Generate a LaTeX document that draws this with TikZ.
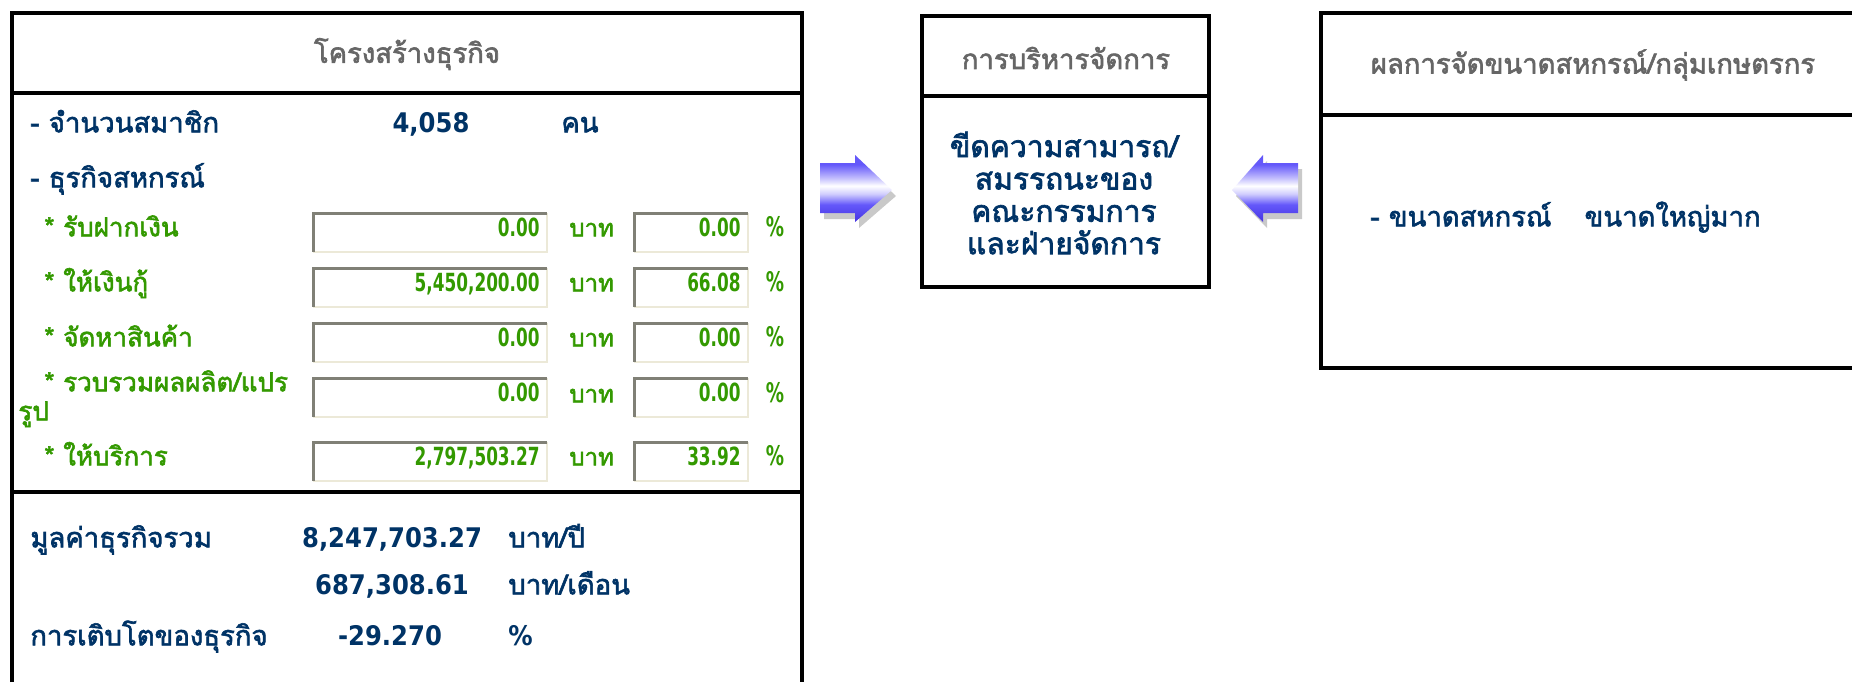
\documentclass[tikz,border=0pt]{standalone}
\usepackage{fontspec}
\newfontfamily\thai[Script=Thai, AutoFakeBold=2.2]{Loma}
\newfontfamily\numf{DejaVu Sans Condensed}
\newfontfamily\numg[FakeStretch=0.75]{DejaVu Sans Condensed}
\definecolor{navy}{RGB}{0,51,102}
\definecolor{grn}{RGB}{51,153,0}
\definecolor{hdrgray}{RGB}{102,102,102}
\definecolor{boxdark}{RGB}{128,128,118}
\definecolor{boxlight}{RGB}{236,233,216}
\definecolor{arrblue}{RGB}{100,88,250}
\definecolor{arrblue2}{RGB}{70,52,225}
\pgfdeclareverticalshading{arrshade}{100bp}{color(0bp)=(arrblue2); color(25bp)=(arrblue2); color(38bp)=(arrblue); color(46bp)=(white!70!arrblue); color(52bp)=(white); color(58bp)=(white!60!arrblue); color(68bp)=(arrblue); color(75bp)=(arrblue); color(100bp)=(arrblue)}
\newcommand\fieldbox[6]{%
  \fill[white] (#2,#3) rectangle (#4,#5);
  \draw[line width=1pt, draw=boxlight] (#2,#5) -- (#4,#5) -- (#4,#3);
  \draw[line width=1.5pt, draw=boxdark] (#2,#5) -- (#2,#3) -- (#4,#3);
  \node[val] (#1) at ({#4-7},{(#3+#5)/2}) {#6};
}
\begin{document}
\begin{tikzpicture}[x=0.5pt,y=-0.5pt,
  font=\thai\bfseries\fontsize{13.75}{16}\selectfont,
  panel/.style={line width=1.6pt, draw=black},
  hdr/.style={text=hdrgray, inner sep=0},
  lbl/.style={text=navy, anchor=mid west, inner sep=0},
  navyn/.style={text=navy, anchor=mid, inner sep=0, font=\numf\bfseries\fontsize{13.5}{16}\selectfont},
  glbl/.style={text=grn, anchor=mid west, inner sep=0, font=\thai\bfseries\fontsize{13}{15}\selectfont},
  gunit/.style={text=grn, anchor=mid west, inner sep=0, font=\thai\bfseries\fontsize{12}{15}\selectfont},
  gc/.style={text=grn, anchor=mid, inner sep=0, font=\numg\bfseries\fontsize{13.5}{15}\selectfont},
  val/.style={text=grn, anchor=mid east, inner sep=0, font=\numg\bfseries\fontsize{12.5}{14}\selectfont},
  arrowshape/.style={shading=arrshade},
  arrshadow/.style={fill=black!70, opacity=0.3}
]
\useasboundingbox (0,0) rectangle (1852,682);

% ---------- left panel ----------
\draw[panel] (12,682) -- (12,13) -- (802,13) -- (802,682);
\draw[panel] (12,93) -- (802,93);
\draw[panel] (12,492) -- (802,492);
\node[hdr] (h1) at (407,54) {โครงสร้างธุรกิจ};

\node[lbl] (mem) at (30,128) {- จำนวนสมาชิก};
\node[navyn] (memv) at (431,128) {4,058};
\node[lbl] (memu) at (561,128) {คน};
\node[lbl] (biz) at (30,183) {- ธุรกิจสหกรณ์};

% rows
\node[glbl] (r1) at (44,232) {* รับฝากเงิน};
\fieldbox{r1a}{313}{213}{547}{252}{0.00}
\node[gunit] (r1b) at (569,232) {บาท};
\fieldbox{r1c}{634}{213}{748}{252}{0.00}
\node[gc] (r1d) at (775,232) {\%};

\node[glbl] (r2) at (44,287) {* ให้เงินกู้};
\fieldbox{r2a}{313}{268}{547}{307}{5,450,200.00}
\node[gunit] (r2b) at (569,287) {บาท};
\fieldbox{r2c}{634}{268}{748}{307}{66.08}
\node[gc] (r2d) at (775,287) {\%};

\node[glbl] (r3) at (44,342) {* จัดหาสินค้า};
\fieldbox{r3a}{313}{323}{547}{362}{0.00}
\node[gunit] (r3b) at (569,342) {บาท};
\fieldbox{r3c}{634}{323}{748}{362}{0.00}
\node[gc] (r3d) at (775,342) {\%};

\node[glbl] (r4) at (44,387) {* รวบรวมผลผลิต/แปร};
\node[glbl] (r4x) at (18,416) {รูป};
\fieldbox{r4a}{313}{378}{547}{417}{0.00}
\node[gunit] (r4b) at (569,398) {บาท};
\fieldbox{r4c}{634}{378}{748}{417}{0.00}
\node[gc] (r4d) at (775,398) {\%};

\node[glbl] (r5) at (44,461) {* ให้บริการ};
\fieldbox{r5a}{313}{442}{547}{481}{2,797,503.27}
\node[gunit] (r5b) at (569,461) {บาท};
\fieldbox{r5c}{634}{442}{748}{481}{33.92}
\node[gc] (r5d) at (775,461) {\%};

% totals
\node[lbl] (tot) at (30,543) {มูลค่าธุรกิจรวม};
\node[navyn] (totv) at (392,543) {8,247,703.27};
\node[lbl] (totu) at (508,543) {บาท/ปี};
\node[navyn] (monv) at (392,590) {687,308.61};
\node[lbl] (monu) at (508,590) {บาท/เดือน};
\node[lbl] (gro) at (30,641) {การเติบโตของธุรกิจ};
\node[navyn] (grov) at (390,641) {-29.270};
\node[navyn, anchor=mid west] (grou) at (508,641) {\%};

% ---------- arrows ----------
\fill[arrshadow] (824,169) -- (859,169) -- (859,161) -- (896,196) -- (859,228) -- (859,219) -- (824,219) -- cycle;
\shade[arrowshape] (820,163) -- (855,163) -- (855,155) -- (892,190) -- (855,222) -- (855,213) -- (820,213) -- cycle;
\fill[arrshadow] (1302,169) -- (1267,169) -- (1267,161) -- (1236,196) -- (1267,228) -- (1267,219) -- (1302,219) -- cycle;
\shade[arrowshape] (1298,163) -- (1263,163) -- (1263,155) -- (1232,190) -- (1263,222) -- (1263,213) -- (1298,213) -- cycle;

% ---------- middle box ----------
\draw[panel] (922,16) rectangle (1209,287);
\draw[panel] (922,96) -- (1209,96);
\node[hdr] (h2) at (1066,58) {การบริหารจัดการ};
\node[text=navy, inner sep=0, anchor=center, align=center, font=\thai\bfseries\fontsize{15}{16.2}\selectfont] (mgmt) at (1064,193)
  {ขีดความสามารถ/\\สมรรถนะของ\\คณะกรรมการ\\และฝ่ายจัดการ};

% ---------- right panel ----------
\draw[panel] (1852,13) -- (1321,13) -- (1321,368) -- (1852,368);
\draw[panel] (1321,115) -- (1852,115);
\node[hdr] (h3) at (1593,65) {ผลการจัดขนาดสหกรณ์/กลุ่มเกษตรกร};
\node[lbl] (size) at (1370,222) {- ขนาดสหกรณ์\hspace{1.2em}ขนาดใหญ่มาก};
\end{tikzpicture}
\end{document}
